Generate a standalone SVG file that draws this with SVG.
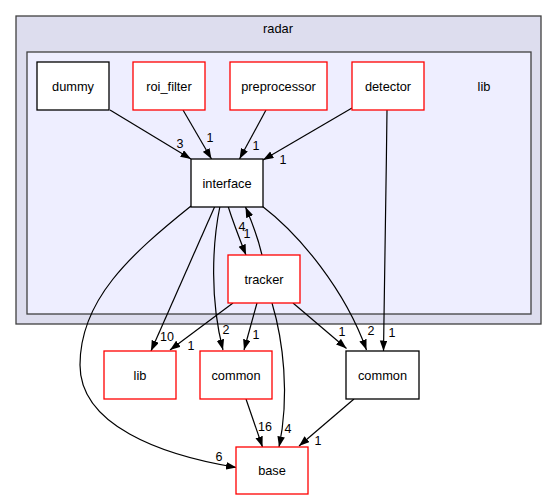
<svg xmlns="http://www.w3.org/2000/svg" width="557" height="500" viewBox="0 0 557 500">
<style>
text{font-family:"Liberation Sans",Arial,sans-serif;font-size:12.8px;fill:#000;text-anchor:middle}
.n rect{fill:#fff;stroke:#000;stroke-width:1.3}
.n.r rect{stroke:#ff0000}
.e path{fill:none;stroke:#000;stroke-width:1.2;marker-end:url(#a)}
.e text{font-size:12.5px}
</style>
<defs>
<marker id="a" markerWidth="11" markerHeight="8" refX="10.5" refY="3.8" orient="auto" markerUnits="userSpaceOnUse">
<path d="M0,0 L10.5,3.8 L0,7.6 z" fill="#000"/>
</marker>
</defs>
<rect width="557" height="500" fill="#fff"/>
<g id="cluster_radar">
<rect x="16" y="16" width="525" height="308" fill="#ddddee" stroke="#404040" stroke-width="1.3"/>
<text x="278" y="32.5">radar</text>
</g>
<g id="cluster_lib">
<rect x="27" y="52" width="504" height="262" fill="#eeeeff" stroke="#404040" stroke-width="1.3"/>
<text x="484" y="90.5">lib</text>
</g>
<g id="edges" class="e">
<path d="M110,110 L191,159"/><text x="180" y="147.5">3</text>
<path d="M183,110 L211.5,159"/><text x="210" y="142">1</text>
<path d="M266,110 L239.5,159"/><text x="256" y="150">1</text>
<path d="M352,108 L263,160"/><text x="283" y="163.5">1</text>
<path d="M387,110 C386,200 384,300 383.5,351"/><text x="392" y="336.5">1</text>
<path d="M228,206 C233,222 240,240 246,255"/><text x="242" y="230.5">4</text>
<path d="M262,255 C258,238 252,222 245.5,207"/><text x="247" y="237.5">1</text>
<path d="M215,206 L151,351"/><text x="167" y="341">10</text>
<path d="M220,206 C212,245 210,300 223,350"/><text x="226" y="333.5">2</text>
<path d="M262,206 C300,235 345,290 366.5,350"/><text x="371" y="334.5">2</text>
<path d="M191,206 C130,255 80,300 80,365 C80,425 160,455 236.5,467.5"/><text x="219" y="460.5">6</text>
<path d="M233,303 L170,350"/><text x="191" y="349.5">1</text>
<path d="M257,303 L244,350"/><text x="256" y="338.5">1</text>
<path d="M272,303 C283,340 290,395 279,447"/><text x="288" y="433">4</text>
<path d="M293,303 L346.5,348.5"/><text x="342" y="336">1</text>
<path d="M246,399 L262.5,447"/><text x="265" y="430.5">16</text>
<path d="M354,399 L299,446"/><text x="318" y="444.5">1</text>
</g>
<g id="dummy" class="n"><rect x="37" y="62" width="72" height="48"/><text x="73" y="90.5">dummy</text></g>
<g id="roi_filter" class="n r"><rect x="133" y="62" width="72" height="48"/><text x="169" y="90.5">roi_filter</text></g>
<g id="preprocessor" class="n r"><rect x="230" y="62" width="97" height="48"/><text x="278.5" y="90.5">preprocessor</text></g>
<g id="detector" class="n r"><rect x="352" y="62" width="72" height="48"/><text x="388" y="90.5">detector</text></g>
<g id="interface" class="n"><rect x="191" y="159" width="72" height="48"/><text x="227" y="187.5">interface</text></g>
<g id="tracker" class="n r"><rect x="228" y="255" width="72" height="48"/><text x="264" y="283.5">tracker</text></g>
<g id="lib" class="n r"><rect x="104" y="351" width="72" height="48"/><text x="140" y="379.5">lib</text></g>
<g id="common_red" class="n r"><rect x="200" y="351" width="72" height="48"/><text x="236" y="379.5">common</text></g>
<g id="common_black" class="n"><rect x="346" y="351" width="73" height="48"/><text x="382.5" y="379.5">common</text></g>
<g id="base" class="n r"><rect x="236" y="447" width="72" height="47"/><text x="272" y="474.5">base</text></g>
</svg>
